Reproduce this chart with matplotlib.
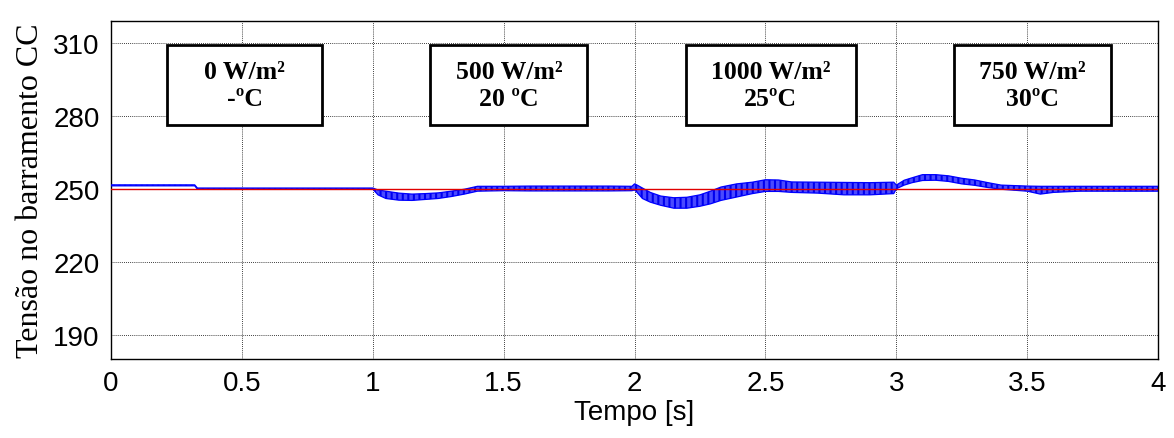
import numpy as np
import matplotlib
matplotlib.use('Agg')
from matplotlib import pyplot as plt
from matplotlib.patches import Rectangle

# DC bus voltage: ripple envelope (upper / lower)
t = [0, 0.32, 0.33, 1.0, 1.02, 1.05, 1.1, 1.15, 1.2, 1.25, 1.3, 1.35, 1.4,
     1.5, 1.6, 1.7, 1.8, 1.9, 1.99, 2.0, 2.01, 2.03, 2.06, 2.1, 2.15, 2.2,
     2.25, 2.29, 2.33, 2.39, 2.45, 2.5, 2.55, 2.6, 2.7, 2.8, 2.9, 2.99, 3.0,
     3.03, 3.06, 3.1, 3.15, 3.2, 3.25, 3.3, 3.35, 3.4, 3.5, 3.55, 3.6, 3.7,
     3.8, 3.9, 4.0]
v_hi = [251.6, 251.6, 250.3, 250.3, 249.5, 249.0, 248.2, 247.8, 248.0, 248.3,
        249.0, 249.8, 251.0, 251.0, 251.1, 251.1, 251.1, 251.1, 251.0, 252.0,
        251.5, 250.3, 248.5, 247.0, 246.3, 246.5, 247.5, 249.0, 250.7, 252.0,
        252.7, 253.7, 253.6, 252.8, 252.7, 252.6, 252.5, 252.7, 251.5, 253.5,
        254.5, 255.8, 255.8, 255.3, 254.3, 253.6, 252.5, 251.5, 251.1, 251.0,
        251.0, 251.0, 251.0, 251.0, 251.0]
v_lo = [251.2, 251.2, 249.9, 249.9, 247.5, 246.0, 245.3, 245.2, 245.6, 246.0,
        246.8, 247.8, 249.0, 249.2, 249.1, 249.1, 249.1, 249.1, 249.2, 249.5,
        248.5, 246.0, 244.5, 243.2, 242.0, 242.0, 242.8, 243.8, 245.2, 246.6,
        248.0, 248.9, 248.9, 248.5, 248.2, 247.5, 247.5, 248.0, 250.0, 251.5,
        252.5, 253.4, 253.5, 253.0, 252.0, 251.4, 250.5, 249.8, 249.0, 247.8,
        248.5, 249.0, 249.0, 249.0, 249.0]
t_ref = [0, 4]
v_ref = [250, 250]

# irradiance / temperature labels
labels = ['0 W/m²\n-ºC', '500 W/m²\n20 ºC', '1000 W/m²\n25ºC', '750 W/m²\n30ºC']
label_x = [0.51, 1.52, 2.52, 3.52]
box_w = [0.59, 0.60, 0.65, 0.60]

plt.rcParams['hatch.linewidth'] = 1.5
fig = plt.figure(figsize=(11.74, 4.39), dpi=100)
ax = fig.add_axes([0.0945, 0.18, 0.892, 0.77])

ax.fill_between(t, v_lo, v_hi, facecolor='#4a4aff', edgecolor='#0000ee',
                hatch='|||', linewidth=0, zorder=2)
ax.plot(t, v_hi, color='#0000ff', lw=0.9, zorder=3)
ax.plot(t, v_lo, color='#0000ff', lw=0.9, zorder=3)
ax.plot(t_ref, v_ref, color='#e00000', lw=1, zorder=4)

box_y, box_h = 276.3, 32.9
for x, w, s in zip(label_x, box_w, labels):
    ax.add_patch(Rectangle((x - w / 2, box_y), w, box_h, facecolor='white',
                           edgecolor='black', lw=2, zorder=5))
    ax.text(x, box_y + box_h / 2, s, ha='center', va='center',
            family='Liberation Serif', fontweight='bold', fontsize=18.5,
            linespacing=1.25, zorder=6)

ax.set_xlim(0, 4)
ax.set_ylim(180, 319)
ax.set_xticks([0, 0.5, 1, 1.5, 2, 2.5, 3, 3.5, 4])
ax.set_xticklabels(['0', '0.5', '1', '1.5', '2', '2.5', '3', '3.5', '4'])
ax.set_yticks([190, 220, 250, 280, 310])
ax.grid(True, color='black', linestyle=(0, (1, 1.5)), lw=0.6)
ax.tick_params(labelsize=20, length=0, pad=8)
for lab in ax.get_xticklabels() + ax.get_yticklabels():
    lab.set_family('Liberation Sans')
for sp in ax.spines.values():
    sp.set_linewidth(1)

ax.set_xlabel('Tempo [s]', family='Liberation Sans', fontsize=20, labelpad=2)
ax.set_ylabel('Tensão no barramento CC', family='Liberation Serif', fontsize=23,
              labelpad=6)

fig.savefig('out.png', dpi=100)
